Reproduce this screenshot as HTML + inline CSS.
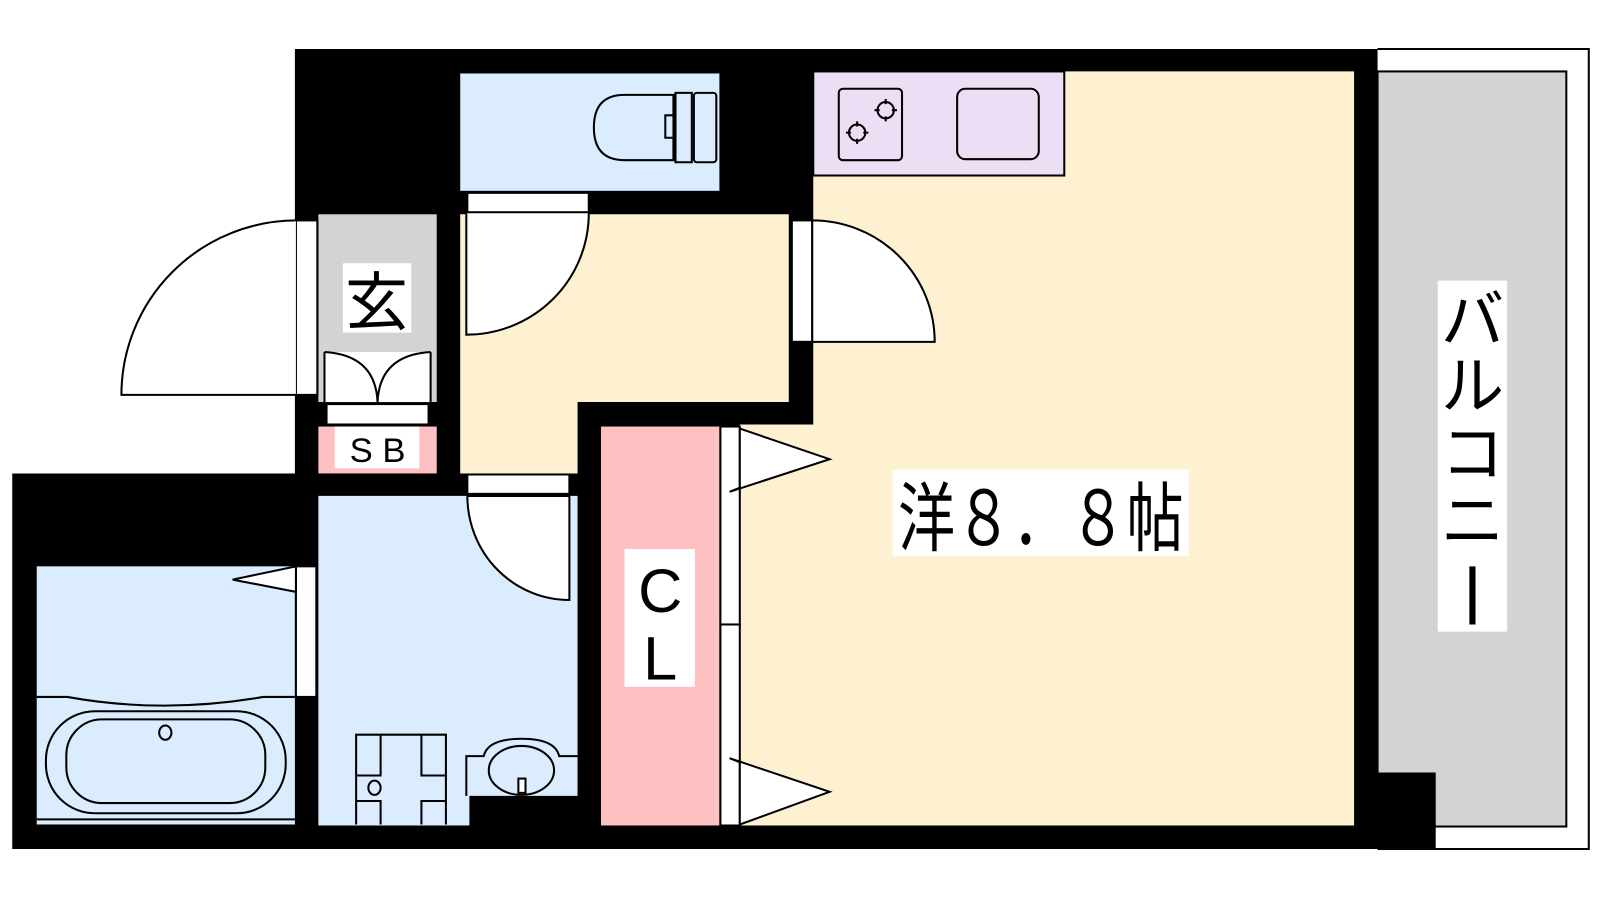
<!DOCTYPE html>
<html><head><meta charset="utf-8"><style>
html,body{margin:0;padding:0;background:#fff;width:1600px;height:900px;overflow:hidden}
svg{display:block}
text{font-family:"Liberation Sans","Noto Sans CJK JP",sans-serif;fill:#000}
</style></head><body>
<svg width="1600" height="900" viewBox="0 0 1568 882" preserveAspectRatio="none" xmlns="http://www.w3.org/2000/svg">
<rect width="1568" height="882" fill="#fff"/>
<!-- balcony -->
<path d="M1350 48 H1557 V832 H1350" fill="#fff" stroke="#000" stroke-width="2"/>
<rect x="1350" y="70" width="185" height="740" fill="#d3d3d3" stroke="#000" stroke-width="2"/>
<!-- building footprint -->
<polygon points="289,48 1350,48 1350,757 1407,757 1407,832 12,832 12,464 289,464" fill="#000"/>
<!-- toilet -->
<rect x="451" y="72" width="254" height="115" fill="#dbecfe"/>
<path d="M660 93 H612 Q582 93 582 125 Q582 157 612 157 H660 Z" fill="none" stroke="#000" stroke-width="2"/>
<path d="M660 93 V113 H652 V135 H660 V157" fill="none" stroke="#000" stroke-width="2"/>
<rect x="662" y="91" width="16" height="68" fill="none" stroke="#000" stroke-width="2"/>
<rect x="680" y="91" width="22" height="68" rx="3" fill="none" stroke="#000" stroke-width="2"/>
<!-- hallway -->
<polygon points="451,210 773,210 773,394 566,394 566,464 451,464" fill="#fdf1d2"/>
<rect x="458" y="189" width="119" height="19" fill="#fff" stroke="#000" stroke-width="2"/>
<path d="M457 209 V328 A120 119 0 0 0 577 209" fill="#fff" stroke="#000" stroke-width="2"/>
<!-- genkan -->
<rect x="312" y="210" width="116" height="184" fill="#d3d3d3"/>
<rect x="290" y="216" width="21" height="171" fill="#fff" stroke="#000" stroke-width="2"/>
<path d="M290 216 A172 171 0 0 0 119 387 H290" fill="#fff" stroke="#000" stroke-width="2"/>
<rect x="336" y="258" width="67" height="68" fill="#fff"/>
<text x="369" y="318" font-size="62" text-anchor="middle">玄</text>
<rect x="318" y="345" width="104" height="49" fill="#fff"/>
<path d="M318 345 V394 M422 345 V394 M318 345 Q368 348 370 394 Q372 348 422 345" fill="none" stroke="#000" stroke-width="2"/>
<rect x="320" y="396" width="100" height="20" fill="#fff" stroke="#000" stroke-width="2"/>
<rect x="312" y="418" width="116" height="46" fill="#fec0c0"/>
<rect x="328" y="418" width="83" height="41" fill="#fff"/>
<text x="370" y="453" font-size="34" text-anchor="middle">S B</text>
<!-- kitchen / LDK -->
<polygon points="797,70 1327,70 1327,809 725,809 725,416 797,416" fill="#fdf1d2"/>
<rect x="797" y="70" width="246" height="102" fill="#ecdff5" stroke="#000" stroke-width="2"/>
<rect x="822" y="87" width="62" height="70" rx="4" fill="none" stroke="#000" stroke-width="2"/>
<circle cx="840" cy="130" r="8" fill="none" stroke="#000" stroke-width="2"/>
<path d="M840 119 V124 M840 136 V141 M829 130 H834 M846 130 H851" stroke="#000" stroke-width="2"/>
<circle cx="868" cy="108" r="8" fill="none" stroke="#000" stroke-width="2"/>
<path d="M868 97 V102 M868 114 V119 M857 108 H862 M874 108 H879" stroke="#000" stroke-width="2"/>
<rect x="938" y="87" width="80" height="69" rx="8" fill="none" stroke="#000" stroke-width="2"/>
<rect x="776" y="216" width="20" height="119" fill="#fff" stroke="#000" stroke-width="2"/>
<path d="M796 216 A120 119 0 0 1 916 335 H796 Z" fill="#fff" stroke="#000" stroke-width="2"/>
<rect x="875" y="460" width="290" height="85" fill="#fff"/>
<text x="1020" y="534" font-size="74" text-anchor="middle" textLength="280" lengthAdjust="spacingAndGlyphs">洋８．８帖</text>
<rect x="1409" y="275" width="68" height="344" fill="#fff"/>
<text x="1443" y="335" font-size="62" text-anchor="middle">バ</text>
<text x="1443" y="400" font-size="62" text-anchor="middle">ル</text>
<text x="1443" y="466" font-size="62" text-anchor="middle">コ</text>
<text x="1443" y="532" font-size="62" text-anchor="middle">ニ</text>
<path d="M1443 555 V612" stroke="#000" stroke-width="6"/>
<!-- closet -->
<rect x="589" y="418" width="116" height="391" fill="#fec0c0"/>
<rect x="612" y="538" width="69" height="135" fill="#fff"/>
<text x="647" y="600" font-size="60" text-anchor="middle">C</text>
<text x="647" y="666" font-size="60" text-anchor="middle">L</text>
<rect x="706" y="418" width="19" height="194" fill="#fff" stroke="#000" stroke-width="2"/>
<rect x="706" y="612" width="19" height="197" fill="#fff" stroke="#000" stroke-width="2"/>
<polygon points="725,420 813,450 715,482 725,478" fill="#fff" stroke="#000" stroke-width="2"/>
<polygon points="715,743 813,776 725,808 725,747" fill="#fff" stroke="#000" stroke-width="2"/>
<!-- wash room -->
<polygon points="312,486 566,486 566,780 460,780 460,809 312,809" fill="#dbecfe"/>
<rect x="458" y="465" width="100" height="19" fill="#fff" stroke="#000" stroke-width="2"/>
<path d="M458 486 A100 102 0 0 0 558 588 V486 Z" fill="#fff" stroke="#000" stroke-width="2"/>
<path d="M349 808 V720 H437 V808 M349 760 H373 V720 M413 720 V760 H437 M349 785 H373 V808 M413 808 V785 H437 M349 760 V785 M437 760 V785" fill="none" stroke="#000" stroke-width="2"/>
<ellipse cx="367" cy="772" rx="6" ry="7" fill="none" stroke="#000" stroke-width="2"/>
<path d="M457 780 V741 H474 Q478 724 511 724 Q544 724 548 741 H566" fill="none" stroke="#000" stroke-width="2"/>
<ellipse cx="511" cy="755" rx="32" ry="24" fill="none" stroke="#000" stroke-width="2"/>
<rect x="508" y="763" width="7" height="14" fill="#fff" stroke="#000" stroke-width="2"/>
<!-- bath -->
<rect x="36" y="555" width="253" height="253" fill="#dbecfe"/>
<rect x="290" y="555" width="20" height="128" fill="#fff" stroke="#000" stroke-width="2"/>
<polygon points="290,555 228,568 290,580" fill="#fff" stroke="#000" stroke-width="2"/>
<path d="M36 683 H66 Q160 700 258 683 H289" fill="none" stroke="#000" stroke-width="2"/>
<rect x="45" y="697" width="235" height="100" rx="48" fill="none" stroke="#000" stroke-width="2"/>
<rect x="65" y="705" width="195" height="82" rx="35" fill="none" stroke="#000" stroke-width="2"/>
<ellipse cx="162" cy="718" rx="6" ry="7" fill="none" stroke="#000" stroke-width="2"/>
<path d="M36 803 H289" stroke="#000" stroke-width="2"/>
</svg>
</body></html>
